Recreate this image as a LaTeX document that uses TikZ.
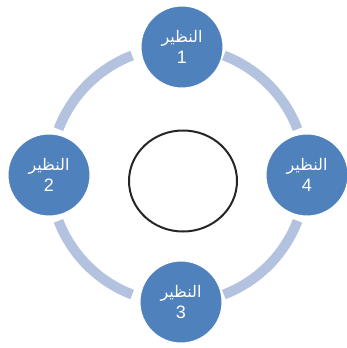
\documentclass[tikz,border=0pt]{standalone}
\usepackage{fontspec}
\usetikzlibrary{calc,shapes.geometric}
\setmainfont{Liberation Sans}
\newfontfamily\arabicfont[Script=Arabic]{DejaVu Sans}
\TeXXeTstate=1
\definecolor{peerblue}{HTML}{4F81BD}
\definecolor{ringblue}{HTML}{B3C2DE}
\begin{document}
\begin{tikzpicture}[x=1pt,y=-1pt,
  peer/.style={circle,fill=peerblue,draw=white,line width=1pt,minimum size=82pt,inner sep=0pt,
    text=white,align=center,font=\fontsize{18}{21}\selectfont},
  ring/.style={ringblue,line width=10pt}]
\useasboundingbox (0,0) rectangle (347,348);
\coordinate (c) at (178,175);
% ring segments between neighbouring peers
\foreach \a in {0,90,180,270}
  \draw[ring] ($(c)+(\a+21:128)$) arc[start angle=\a+21,end angle=\a+69,radius=128];
% central circle
\node[draw=black!85,line width=2pt,ellipse,minimum width=108pt,minimum height=101pt] (mid) at (183,181) {};
% peers
\node[peer] (p1) at (182,47) {{\arabicfont\fontsize{16}{21}\selectfont\beginR النظير\endR}\\1};
\node[peer] (p2) at (49,175) {{\arabicfont\fontsize{16}{21}\selectfont\beginR النظير\endR}\\2};
\node[peer] (p3) at (181,302) {{\arabicfont\fontsize{16}{21}\selectfont\beginR النظير\endR}\\3};
\node[peer] (p4) at (307,175) {{\arabicfont\fontsize{16}{21}\selectfont\beginR النظير\endR}\\4};
\end{tikzpicture}
\end{document}
